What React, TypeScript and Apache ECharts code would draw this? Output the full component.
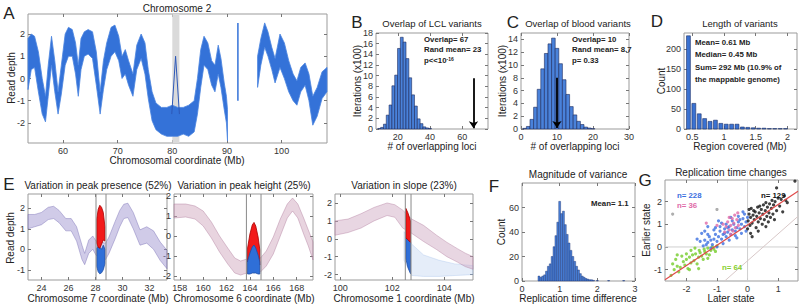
import React, { useEffect, useRef } from 'react';
import * as echarts from 'echarts';

// ---------------- Panel A: Chromosome 2 read depth ----------------
const chr2XTicks = [60, 70, 80, 90, 100];
const chr2YTicks = [-2, -1, 0, 1, 2];
// [Mb, lower, upper] envelope of the overlaid read-depth traces
const chr2BandLeft = [
  [53.6, -0.5, 1.8], [54.2, 0.4, 2.0], [54.8, 0.5, 1.9], [55.5, -0.6, 1.2], [56.2, -1.6, 0.0],
  [56.8, -1.95, -0.8], [57.3, -0.8, 0.6], [57.9, 0.6, 1.9], [58.5, -0.6, 0.8], [59.1, -1.6, -0.6],
  [59.7, -0.7, 0.6], [60.4, 0.6, 2.0], [61.0, 1.0, 2.3], [61.7, 1.0, 2.2], [62.3, 0.2, 1.6],
  [62.8, -0.8, 0.6], [63.3, 0.4, 1.8], [63.9, 1.0, 2.1], [64.6, 1.1, 2.2], [65.4, 0.9, 2.1],
  [66.1, -0.3, 1.2], [66.8, -1.6, -0.6], [67.4, -0.5, 0.8], [68.0, 0.4, 1.6], [68.8, 1.0, 2.3],
  [69.5, 1.2, 2.4], [70.2, 0.8, 1.9], [70.8, 0.0, 1.0], [71.4, 0.2, 1.3], [72.0, -0.3, 0.8],
  [72.8, -0.8, 0.2], [73.5, 0.4, 1.5], [74.3, 0.9, 2.0], [75.0, 0.2, 1.6], [75.6, -0.9, 0.4],
  [76.3, -1.9, -0.6], [77.0, -2.3, -1.1], [78.0, -2.5, -1.3], [79.0, -2.6, -1.3], [80.0, -2.6, -1.2],
  [81.0, -2.6, -1.3], [82.0, -2.5, -1.3], [83.0, -2.6, -1.2], [84.0, -2.4, -1.0], [84.6, -1.6, 0.0],
  [85.2, -0.4, 1.3], [85.8, 0.6, 1.9], [86.5, 0.4, 1.6], [87.2, -0.3, 0.8], [87.8, -0.6, 0.6],
  [88.4, 0.2, 1.5], [88.9, -0.4, 0.9], [89.5, -1.4, -0.2], [89.9, -2.0, -0.8], [90.1, -2.8, -1.4],
];
const chr2BandRight = [
  [95.6, -0.4, 1.0], [96.2, 0.6, 1.8], [96.9, 1.4, 2.5], [97.5, 1.0, 2.1], [98.2, 0.4, 1.4],
  [98.8, -0.2, 0.9], [99.7, 0.5, 2.0], [100.5, 0.0, 1.6], [101.3, -0.6, 0.8], [102.1, -1.0, 0.2],
  [102.8, -1.2, -0.1], [103.5, -0.6, 0.5], [104.3, -0.3, 0.7], [105.0, -1.0, 0.2], [105.7, -2.1, -0.8],
  [106.5, -1.7, -0.4], [107.4, -0.9, 0.3], [108.3, -0.6, 0.5],
];
const chr2Spike = [[92.0, -1.0], [92.0, 2.5]];
const chr2ShadePeak = [[79.9, -1.6], [80.6, 1.0], [81.3, -1.6]];
const chr2Shade = [80.0, 81.3];

// ---------------- Panel B: overlap of LCL variants ----------------
const lclBinCenters = [8.5, 10.25, 12, 13.75, 15.5, 17.25, 19, 20.75, 22.5, 24.25, 26, 27.75, 29.5, 31.25, 33, 34.75, 36.5, 38.25, 40];
const lclCounts = [0.1, 0.3, 0.9, 2.6, 4.5, 8.1, 10.1, 15.1, 17.2, 16.3, 13.2, 9.6, 6.4, 4.3, 1.9, 1.0, 0.4, 0.2, 0.1];
const lclBinWidth = 1.75;
const lclObserved = 67;
const lclArrowTop = 9.5;
const lclXTicks = [20, 40, 60];
const lclYTicks = [0, 2, 4, 6, 8, 10, 12, 14, 16, 18];

// ---------------- Panel C: overlap of blood variants ----------------
const bloodBinCenters = [1, 2, 3, 4, 5, 6, 7, 8, 9, 10, 11, 12, 13, 14, 15, 16, 17, 18, 19, 20];
const bloodCounts = [0.1, 0.4, 1.5, 3.4, 6.2, 9.4, 11.8, 13.3, 14.2, 12.6, 10.2, 7.7, 5.4, 3.5, 2.2, 1.2, 0.7, 0.3, 0.15, 0.05];
const bloodBinWidth = 1;
const bloodObserved = 10;
const bloodArrowTop = 8;
const bloodXTicks = [0, 10, 20, 30];
const bloodYTicks = [0, 2, 4, 6, 8, 10, 12, 14];

// ---------------- Panel D: length of variants ----------------
const lenBinCenters = [0.44, 0.525, 0.61, 0.695, 0.78, 0.865, 0.95, 1.035, 1.12, 1.205, 1.29, 1.375, 1.46, 1.545, 1.63, 1.715, 1.8, 1.885, 1.97];
const lenCounts = [233, 64, 38, 26, 19, 22, 14, 12, 12, 12, 5, 4, 3, 2, 2, 1, 1, 1, 1];
const lenBinWidth = 0.085;
const lenXTicks = [0.5, 1, 1.5, 2];
const lenYTicks = [0, 50, 100, 150, 200];

// ---------------- Panel E: three example loci ----------------
const chr7XTicks = [24, 26, 28, 30, 32];
const chr7YTicks = [-1, 0, 1, 2];
const chr7Band = [
  [23.0, 1.0, 1.7], [23.5, 1.1, 1.7], [24.0, 1.2, 1.8], [24.5, 1.45, 2.05], [24.9, 1.5, 2.1],
  [25.3, 1.3, 1.9], [25.8, 0.9, 1.5], [26.2, 0.9, 1.5], [26.6, 0.4, 1.1], [27.0, -0.5, 0.2],
  [27.2, -0.75, -0.2], [27.5, -0.2, 0.45], [27.8, 0.0, 0.65], [28.05, -0.3, 0.4], [28.75, -0.5, 0.3],
  [29.0, -0.2, 0.6], [29.45, 0.5, 1.35], [29.8, 1.1, 1.9], [30.1, 1.5, 2.2], [30.4, 1.55, 2.25],
  [30.8, 1.0, 1.8], [31.3, 0.2, 0.95], [31.8, 0.3, 1.1], [32.3, 0.0, 0.9], [32.8, -0.55, 0.35],
  [33.3, -0.95, -0.05],
];
const chr7Early = [[28.1, 0.3, 1.5], [28.2, 0.1, 1.95], [28.32, 0.05, 2.15], [28.45, 0.25, 2.05], [28.58, 0.45, 1.8], [28.7, 0.4, 1.1]];
const chr7Late = [[28.1, -0.85, 0.05], [28.2, -1.1, 0.15], [28.32, -1.2, 0.1], [28.45, -1.15, 0.0], [28.58, -1.0, 0.2], [28.7, -0.7, 0.0]];
const chr7Bounds = [28.04, 28.78];

const chr6XTicks = [158, 160, 162, 164, 166, 168];
const chr6YTicks = [-2, -1, 0, 1, 2];
const chr6Band = [
  [157.5, 0.9, 1.6], [158.5, 0.95, 1.6], [159.3, 0.85, 1.5], [160.0, 0.5, 1.25], [160.7, -0.1, 0.7],
  [161.4, -0.8, 0.0], [162.1, -1.4, -0.6], [162.7, -1.85, -1.1], [163.2, -1.95, -1.25], [163.75, -1.85, -1.15],
  [164.9, -1.8, -1.1], [165.4, -1.5, -0.75], [166.0, -0.9, -0.05], [166.6, 0.0, 0.85], [167.2, 0.9, 1.6],
  [167.65, 1.25, 1.9], [168.1, 0.9, 1.6], [168.6, 0.1, 0.9], [169.0, -0.5, 0.3], [169.4, -1.2, -0.3],
];
const chr6Early = [[163.8, -1.3, -0.6], [164.0, -1.15, 0.1], [164.2, -1.0, 0.55], [164.35, -0.95, 0.68], [164.5, -1.0, 0.5], [164.7, -1.25, -0.05], [164.85, -1.45, -0.7]];
const chr6Late = [[163.8, -1.9, -1.25], [164.0, -1.9, -0.85], [164.2, -1.85, -0.55], [164.35, -1.85, -0.45], [164.5, -1.85, -0.6], [164.7, -1.9, -0.95], [164.85, -1.9, -1.3]];
const chr6Bounds = [163.7, 164.95];

const chr1XTicks = [100, 102, 104];
const chr1YTicks = [-2, -1, 0, 1, 2];
const chr1Band = [
  [99.8, 0.2, 1.0], [100.3, 0.35, 1.1], [100.8, 0.6, 1.4], [101.3, 1.0, 1.75], [101.8, 1.3, 2.0],
  [102.1, 1.2, 1.9], [102.4, 0.6, 1.6], [102.75, 0.3, 1.1], [103.2, -0.15, 0.75], [103.7, -0.6, 0.2],
  [104.1, -1.0, -0.2], [104.5, -1.3, -0.55], [104.8, -1.55, -0.8], [105.1, -1.7, -1.0],
];
const chr1Spread = [[102.45, -1.2, 0.4], [102.75, -2.05, -0.3], [103.2, -2.1, -0.9], [103.8, -2.1, -1.2], [104.4, -2.05, -1.4], [105.1, -2.0, -1.5]];
const chr1Early = [[102.52, 0.05, 1.7], [102.6, -0.05, 1.45], [102.7, -0.2, 1.0]];
const chr1Late = [[102.52, -1.1, 0.05], [102.6, -1.6, -0.05], [102.7, -1.95, -0.2]];
const chr1Bounds = [102.5, 102.72];

// ---------------- Panel F: magnitude of variance ----------------
const magBinCenters = [0.45, 0.5, 0.55, 0.6, 0.65, 0.7, 0.75, 0.8, 0.85, 0.9, 0.95, 1.0, 1.05, 1.1, 1.15, 1.2, 1.25, 1.3, 1.35, 1.4, 1.45, 1.5, 1.55, 1.6, 1.65, 1.7, 1.75, 1.8, 1.85, 1.9, 2.0, 2.3, 2.7];
const magCounts = [4, 3, 4, 5, 8, 12, 14, 20, 28, 37, 48, 65, 55, 57, 46, 38, 31, 25, 20, 16, 12, 9, 6, 4, 3, 2, 1.5, 1, 1, 0.5, 0.4, 0.4, 0.4];
const magBinWidth = 0.05;
const magXTicks = [0, 1, 2, 3];
const magYTicks = [0, 20, 40, 60];

// ---------------- Panel G: replication time changes ----------------
const repXTicks = [-2, -1, 0, 1];
const repYTicks = [-1, 0, 1, 2];
const repGreen = [
  [-2.5, -1.25], [-2.4, -1.0], [-2.35, -0.55], [-2.3, -0.85], [-2.25, -1.1], [-2.2, -0.9], [-2.15, -0.4], [-2.1, -0.65],
  [-2.05, -0.8], [-2.0, -0.55], [-1.95, -0.95], [-1.9, -0.45], [-1.85, -0.7], [-1.8, -0.35], [-1.75, -0.6], [-1.72, -0.05],
  [-1.7, -0.3], [-1.65, -0.75], [-1.6, -0.45], [-1.58, -0.15], [-1.55, -0.25], [-1.5, -0.4], [-1.45, -0.55], [-1.42, -0.1],
  [-1.4, -0.2], [-1.35, -0.3], [-1.3, -0.05], [-1.25, -0.35], [-1.2, -0.15], [-1.15, 0.0], [-1.1, -0.1], [-1.05, -0.2],
  [-1.0, 0.05], [-2.0, -0.3], [-1.9, -1.0], [-1.6, -0.95], [-2.3, -0.35], [-1.85, -0.15], [-2.45, -0.75], [-1.3, -0.5],
];
const repBlue = [
  [-1.55, 0.25], [-1.45, 0.05], [-1.4, 0.3], [-1.35, 0.1], [-1.3, 0.2], [-1.25, 0.45], [-1.2, 0.3], [-1.15, 0.1],
  [-1.1, 0.35], [-1.05, 0.55], [-1.0, 0.25], [-0.95, 0.45], [-0.9, 0.7], [-0.85, 0.35], [-0.8, 0.55], [-0.75, 0.8],
  [-0.7, 0.45], [-0.65, 0.65], [-0.6, 0.9], [-0.55, 0.55], [-0.5, 0.75], [-0.45, 1.0], [-0.4, 0.7], [-0.35, 0.85],
  [-0.3, 1.1], [-0.25, 0.8], [-0.2, 1.0], [-0.15, 1.25], [-0.1, 0.9], [-0.05, 1.1], [0.0, 1.3], [-0.1, 1.45],
  [-0.3, 1.35], [-0.5, 1.15], [-0.7, 1.0], [-0.9, 0.9], [-1.1, 0.75], [-1.3, 0.55], [-0.2, 0.6], [-0.4, 0.5],
  [-0.6, 0.3], [-0.8, 0.15], [-1.0, 0.0], [-1.2, -0.05], [-0.05, 0.7], [-1.5, 0.6], [-1.65, 0.35], [-1.3, 0.9],
  [-0.15, 1.55], [-0.95, 1.15], [-0.35, 0.4], [-0.75, 0.6], [-0.55, 1.3], [-0.25, 1.2], [-0.65, 0.85], [-0.85, 1.05],
  [-1.05, 0.85], [-1.4, 0.7],
];
const repPink = [
  [-0.75, 0.65], [-0.7, 0.9], [-0.65, 1.1], [-0.6, 0.75], [-0.55, 0.95], [-0.5, 1.25], [-0.48, 0.7], [-0.45, 1.05],
  [-0.42, 1.4], [-0.4, 0.85], [-0.35, 1.2], [-0.32, 1.5], [-0.3, 0.95], [-0.6, 1.3], [-0.8, 1.0], [-1.35, 1.05],
  [-1.0, 0.95], [-0.55, 0.55],
];
const repBlack = [
  [0.0, 0.8], [0.02, 1.15], [0.05, 1.45], [0.08, 0.95], [0.1, 1.3], [0.12, 1.7], [0.15, 1.05], [0.18, 1.4],
  [0.2, 1.6], [0.22, 1.2], [0.25, 1.55], [0.28, 0.85], [0.3, 1.35], [0.33, 1.75], [0.35, 1.1], [0.38, 1.5],
  [0.4, 1.8], [0.42, 1.25], [0.45, 1.65], [0.48, 1.0], [0.5, 1.45], [0.52, 1.85], [0.55, 1.2], [0.58, 1.6],
  [0.6, 1.95], [0.63, 1.35], [0.65, 1.75], [0.68, 1.1], [0.7, 1.5], [0.72, 1.9], [0.75, 1.3], [0.78, 1.7],
  [0.8, 2.05], [0.83, 1.45], [0.85, 1.85], [0.88, 1.2], [0.9, 2.0], [0.95, 1.6], [1.0, 2.15], [1.05, 1.8],
  [1.1, 2.1], [1.15, 1.55], [1.2, 2.25], [1.3, 1.95], [0.1, 0.6], [0.35, 0.7], [0.6, 0.9], [0.95, 2.6],
  [1.55, 2.9], [0.15, 0.45], [0.05, 1.65], [1.25, 2.05],
];
const repGray = [[-2.45, 1.45], [-1.0, 1.65]];
const repFit = [[-2.7, -1.45], [1.65, 2.45]];
const repThreshold = [[-0.75, -1.5], [1.65, 1.35]];

// ---------------- rendering ----------------
const FONT = '"Liberation Sans", Arial, Helvetica, sans-serif';
const BLUE = '#3472d8';

const GRIDS = [
  { left: 28, top: 14, width: 299, height: 129 },
  { left: 376, top: 33, width: 112, height: 96 },
  { left: 521, top: 33, width: 108, height: 96 },
  { left: 684, top: 33, width: 113, height: 96 },
  { left: 28, top: 194, width: 139, height: 86 },
  { left: 174, top: 194, width: 139, height: 86 },
  { left: 335, top: 194, width: 138, height: 86 },
  { left: 522, top: 183, width: 113, height: 98 },
  { left: 665, top: 180, width: 133, height: 101 },
];
const AXES: [number[], number[], number[], number[]][] = [
  [[53.6, 108.3], [-2.9, 2.9], chr2XTicks, chr2YTicks],
  [[6.5, 76], [0, 18], lclXTicks, lclYTicks],
  [[0, 30], [0, 15], bloodXTicks, bloodYTicks],
  [[0.37, 2.15], [0, 240], lenXTicks, lenYTicks],
  [[23, 33.3], [-1.5, 2.7], chr7XTicks, chr7YTicks],
  [[157.5, 169.4], [-2.2, 2.1], chr6XTicks, chr6YTicks],
  [[99.8, 105.1], [-2.3, 2.5], chr1XTicks, chr1YTicks],
  [[0, 3], [0, 80], magXTicks, magYTicks],
  [[-2.7, 1.65], [-1.5, 2.95], repXTicks, repYTicks],
];

function band(gi: number, data: number[][], fill: string, stroke: string, z = 2) {
  return {
    type: 'custom', xAxisIndex: gi, yAxisIndex: gi, data, z, silent: true,
    renderItem: (params: any, api: any) => {
      if (params.dataIndexInside !== 0) return null;
      const n = params.dataInsideLength;
      const top: number[][] = [];
      const bot: number[][] = [];
      for (let i = 0; i < n; i++) {
        const x = api.value(0, i);
        top.push(api.coord([x, api.value(2, i)]));
        bot.push(api.coord([x, api.value(1, i)]));
      }
      return { type: 'polygon', shape: { points: top.concat(bot.reverse()) }, style: { fill, stroke, lineWidth: 0.8 } };
    },
  };
}

function hist(gi: number, centers: number[], counts: number[], width: number, fill: string, stroke: string, frac = 1) {
  return {
    type: 'custom', xAxisIndex: gi, yAxisIndex: gi, silent: true, z: 2,
    data: centers.map((c, i) => [c, counts[i]]),
    renderItem: (_p: any, api: any) => {
      const c = api.value(0);
      const h = api.value(1);
      const half = (width * frac) / 2;
      const p0 = api.coord([c - half, h]);
      const p1 = api.coord([c + half, 0]);
      return { type: 'rect', shape: { x: p0[0], y: p0[1], width: p1[0] - p0[0], height: p1[1] - p0[1] }, style: { fill, stroke, lineWidth: 0.6 } };
    },
  };
}

function line(gi: number, data: number[][], color: string, width: number, z = 3) {
  return { type: 'line', xAxisIndex: gi, yAxisIndex: gi, data, symbol: 'none', silent: true, z, lineStyle: { color, width } };
}

function vlines(gi: number, xs: number[], y0: number, y1: number) {
  return xs.map((x) => line(gi, [[x, y0], [x, y1]], '#8a8a8a', 1, 5));
}

function arrow(gi: number, x: number, yTop: number) {
  return {
    type: 'line', xAxisIndex: gi, yAxisIndex: gi, data: [], silent: true, z: 6,
    markLine: {
      silent: true, symbol: ['none', 'arrow'], symbolSize: 7, label: { show: false },
      lineStyle: { color: '#000', width: 1.8, type: 'solid' },
      data: [[{ coord: [x, yTop] }, { coord: [x, 0.15] }]],
    },
  };
}

function scatter(gi: number, data: number[][], color: string) {
  return { type: 'scatter', xAxisIndex: gi, yAxisIndex: gi, data, symbolSize: 3.2, silent: true, z: 3, itemStyle: { color } };
}

type Lbl = { t: string; x: number; y: number; s?: number; rot?: boolean; al?: string; w?: string; c?: string; rich?: any };
const LABELS: Lbl[] = [
  { t: 'A', x: 9, y: 13, s: 17 },
  { t: 'Chromosome 2', x: 177, y: 8 },
  { t: 'Read depth', x: 11, y: 78, rot: true },
  { t: 'Chromosomal coordinate (Mb)', x: 177, y: 160 },
  { t: 'B', x: 357, y: 22, s: 17 },
  { t: 'Overlap of LCL variants', x: 432, y: 23, s: 9.5 },
  { t: 'Iterations (x100)', x: 357, y: 81, rot: true },
  { t: '# of overlapping loci', x: 432, y: 146 },
  { t: 'C', x: 513, y: 22, s: 17 },
  { t: 'Overlap of blood variants', x: 578, y: 23, s: 9.5 },
  { t: 'Iterations (x100)', x: 502, y: 81, rot: true },
  { t: '# of overlapping loci', x: 575, y: 146 },
  { t: 'D', x: 657, y: 21, s: 17 },
  { t: 'Length of variants', x: 740, y: 23, s: 9.5 },
  { t: 'Count', x: 661, y: 81, rot: true },
  { t: 'Region covered (Mb)', x: 740, y: 146 },
  { t: 'E', x: 9, y: 184, s: 17 },
  { t: 'Variation in peak presence (52%)', x: 98, y: 185 },
  { t: 'Variation in peak height (25%)', x: 244, y: 185 },
  { t: 'Variation in slope (23%)', x: 404, y: 185 },
  { t: 'Read depth', x: 10, y: 238, rot: true },
  { t: 'Chromosome 7 coordinate (Mb)', x: 98, y: 298 },
  { t: 'Chromosome 6 coordinate (Mb)', x: 244, y: 298 },
  { t: 'Chromosome 1 coordinate (Mb)', x: 404, y: 298 },
  { t: 'F', x: 494, y: 186, s: 17 },
  { t: 'Magnitude of variance', x: 578, y: 174 },
  { t: 'Count', x: 501, y: 232, rot: true },
  { t: 'Replication time difference', x: 578, y: 298 },
  { t: 'G', x: 645, y: 180, s: 17 },
  { t: 'Replication time changes', x: 731, y: 172 },
  { t: 'Earlier state', x: 646, y: 230, rot: true },
  { t: 'Later state', x: 731, y: 298 },
  // annotations
  { t: 'Overlap= ' + lclObserved, x: 424, y: 39, s: 7.8, al: 'left', w: 'bold' },
  { t: 'Rand mean= 23', x: 424, y: 49.5, s: 7.8, al: 'left', w: 'bold' },
  { t: 'p<<10{sup|-16}', x: 424, y: 60, s: 7.8, al: 'left', w: 'bold', rich: { sup: { fontSize: 5, fontWeight: 'bold', verticalAlign: 'top', fontFamily: FONT, fill: '#222' } } },
  { t: 'Overlap= ' + bloodObserved, x: 572, y: 39, s: 7.8, al: 'left', w: 'bold' },
  { t: 'Rand mean= 8.7', x: 572, y: 49.5, s: 7.8, al: 'left', w: 'bold' },
  { t: 'p= 0.33', x: 572, y: 60, s: 7.8, al: 'left', w: 'bold' },
  { t: 'Mean= 0.61 Mb', x: 695, y: 42, s: 7.8, al: 'left', w: 'bold' },
  { t: 'Median= 0.45 Mb', x: 695, y: 54.5, s: 7.8, al: 'left', w: 'bold' },
  { t: 'Sum= 292 Mb (10.9% of', x: 695, y: 67, s: 7.8, al: 'left', w: 'bold' },
  { t: 'the mappable genome)', x: 695, y: 79.5, s: 7.8, al: 'left', w: 'bold' },
  { t: 'Mean= 1.1', x: 591, y: 203, s: 7.8, al: 'left', w: 'bold' },
  { t: 'n= 228', x: 677, y: 195, s: 7.8, al: 'left', w: 'bold', c: '#3b6fe0' },
  { t: 'n= 36', x: 677, y: 205, s: 7.8, al: 'left', w: 'bold', c: '#e06aa8' },
  { t: 'n= 129', x: 761, y: 195, s: 7.8, al: 'left', w: 'bold', c: '#111' },
  { t: 'n= 64', x: 722, y: 267, s: 7.8, al: 'left', w: 'bold', c: '#86cf2e' },
];

function buildOption() {
  const grid = GRIDS.map((g) => ({ ...g, show: true, borderColor: '#9b9b9b', borderWidth: 1, backgroundColor: '#fff', containLabel: false, outerBoundsMode: 'none' }));
  const xAxis: any[] = [];
  const yAxis: any[] = [];
  const label = { fontSize: 9, color: '#333', fontFamily: FONT, margin: 3 };
  const hidden = { show: false, onZero: false };
  AXES.forEach(([xr, yr, xt, yt], gi) => {
    const common = { type: 'value', gridIndex: gi, axisLine: hidden, splitLine: { show: false } };
    xAxis.push({ ...common, position: 'bottom', min: xr[0], max: xr[1], axisTick: { inside: true, length: 3, customValues: xt, lineStyle: { color: '#777' } }, axisLabel: { ...label, customValues: xt } });
    yAxis.push({ ...common, position: 'left', min: yr[0], max: yr[1], axisTick: { inside: true, length: 3, customValues: yt, lineStyle: { color: '#777' } }, axisLabel: { ...label, customValues: yt } });
  });
  AXES.forEach(([xr, yr, xt, yt], gi) => {
    const common = { type: 'value', gridIndex: gi, axisLine: hidden, splitLine: { show: false }, axisLabel: { show: false } };
    xAxis.push({ ...common, position: 'top', min: xr[0], max: xr[1], axisTick: { inside: true, length: 3, customValues: xt, lineStyle: { color: '#777' } } });
    yAxis.push({ ...common, position: 'right', min: yr[0], max: yr[1], axisTick: { inside: true, length: 3, customValues: yt, lineStyle: { color: '#777' } } });
  });

  const series: any[] = [
    // A
    { type: 'line', xAxisIndex: 0, yAxisIndex: 0, data: [], silent: true, markArea: { silent: true, itemStyle: { color: '#dadada' }, data: [[{ xAxis: chr2Shade[0] }, { xAxis: chr2Shade[1] }]] } },
    band(0, chr2BandLeft, BLUE, '#4a84e0'),
    band(0, chr2BandRight, BLUE, '#4a84e0'),
    line(0, chr2Spike, BLUE, 1.5),
    line(0, chr2ShadePeak, '#2d58b8', 1),
    // B
    hist(1, lclBinCenters, lclCounts, lclBinWidth, '#4a82da', '#1c2a5c'),
    arrow(1, lclObserved, lclArrowTop),
    // C
    hist(2, bloodBinCenters, bloodCounts, bloodBinWidth, '#4a82da', '#1c2a5c'),
    arrow(2, bloodObserved, bloodArrowTop),
    // D
    hist(3, lenBinCenters, lenCounts, lenBinWidth, '#3a72d2', '#1c2f66', 0.72),
    // E1
    band(4, chr7Band, 'rgba(150,140,205,0.45)', 'rgba(110,100,175,0.5)'),
    band(4, chr7Late, '#2f6fd8', '#1e4ea6', 3),
    band(4, chr7Early, '#f21a1a', '#a80000', 3),
    ...vlines(4, chr7Bounds, -1.5, 2.7),
    // E2
    band(5, chr6Band, 'rgba(205,160,185,0.45)', 'rgba(170,115,150,0.5)'),
    band(5, chr6Early, '#f21a1a', '#a80000', 3),
    band(5, chr6Late, '#2f6fd8', '#1e4ea6', 3),
    ...vlines(5, chr6Bounds, -2.2, 2.1),
    // E3
    band(6, chr1Spread, 'rgba(170,195,235,0.3)', 'rgba(140,175,230,0.35)'),
    band(6, chr1Band, 'rgba(205,165,190,0.45)', 'rgba(175,120,155,0.5)'),
    band(6, chr1Late, '#2f6fd8', '#1e4ea6', 3),
    band(6, chr1Early, '#f21a1a', '#a80000', 3),
    ...vlines(6, chr1Bounds, -2.3, 2.5),
    // F
    hist(7, magBinCenters, magCounts, magBinWidth, '#4a82da', 'rgba(25,45,110,0.7)'),
    // G
    line(8, [[0, -1.5], [0, 2.95]], '#cfcfcf', 1, 1),
    line(8, [[-2.7, 0], [1.65, 0]], '#cfcfcf', 1, 1),
    line(8, repThreshold, '#d8c8c8', 1, 1),
    scatter(8, repGreen, '#74cc2a'),
    scatter(8, repBlue, '#3b6fe0'),
    scatter(8, repPink, '#e06aa8'),
    scatter(8, repBlack, '#111111'),
    scatter(8, repGray, '#9a9a9a'),
    line(8, repFit, '#e04848', 1.2, 4),
  ];

  const graphic = LABELS.map((l) => ({
    type: 'text', x: l.x, y: l.y, rotation: l.rot ? Math.PI / 2 : 0, silent: true, z: 100,
    style: {
      text: l.t, fontSize: l.s ?? 10, fontFamily: FONT, fontWeight: l.w ?? 'normal', fill: l.c ?? '#222',
      align: l.al ?? 'center', textAlign: l.al ?? 'center', verticalAlign: 'middle', textVerticalAlign: 'middle',
      rich: l.rich,
    },
  }));

  return { animation: false, backgroundColor: '#fff', textStyle: { fontFamily: FONT }, grid, xAxis, yAxis, series, graphic };
}

export default function App() {
  const ref = useRef<HTMLDivElement>(null);
  useEffect(() => {
    const chart = echarts.init(ref.current as HTMLDivElement, null, { renderer: 'svg' });
    chart.setOption(buildOption() as any);
    return () => chart.dispose();
  }, []);
  return <div ref={ref} style={{ position: 'fixed', left: 0, top: 0, width: 800, height: 306, background: '#fff' }} />;
}
